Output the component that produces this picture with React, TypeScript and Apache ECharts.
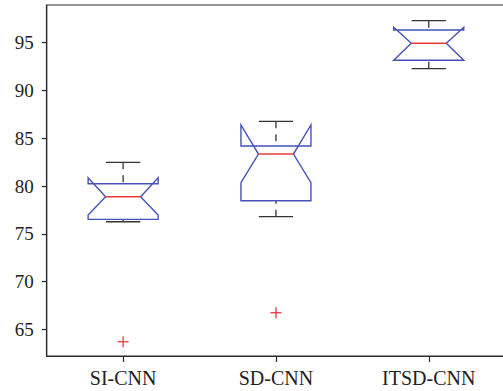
import React, { useEffect, useRef } from "react";
import * as echarts from "echarts";

const categories = ["SI-CNN", "SD-CNN", "ITSD-CNN"];
const whiskerLow = [76.26, 76.79, 92.28];
const q1 = [76.51, 78.46, 93.17];
const median = [78.88, 83.35, 94.94];
const q3 = [80.24, 84.19, 96.33];
const whiskerHigh = [82.48, 86.77, 97.31];
const notchLow = [76.96, 80.35, 93.17];
const notchHigh = [80.87, 86.39, 96.61];
const outlierCategory = [0, 1];
const outlierValue = [63.7, 66.74];
const yTicks = [65, 70, 75, 80, 85, 90, 95];
const yMin = 62.21;
const yMax = 98.95;

const BLUE = "#4652b8";
const RED = "#e83a3a";
const DARK = "#333333";

export default function App() {
  const ref = useRef<HTMLDivElement>(null);
  useEffect(() => {
    document.body.style.margin = "0";
    if (!ref.current) return;
    const chart = echarts.init(ref.current, undefined, { renderer: "svg" });
    const boxData = categories.map((_, i) => [
      i,
      whiskerLow[i],
      q1[i],
      median[i],
      q3[i],
      whiskerHigh[i],
      notchLow[i],
      notchHigh[i],
    ]);
    const outlierData = outlierCategory.map((c, i) => [c, outlierValue[i]]);
    const font = "'Liberation Serif', 'Times New Roman', serif";
    chart.setOption({
      animation: false,
      grid: {
        left: 46.7,
        top: 5,
        width: 458.5,
        height: 351,
        containLabel: false,
        outerBoundsMode: "none",
        show: true,
        borderColor: "#2a2a2a",
        borderWidth: 1.2,
        backgroundColor: "#ffffff",
      },
      xAxis: {
        type: "category",
        data: categories,
        boundaryGap: true,
        axisLine: { show: true, lineStyle: { color: "#2a2a2a", width: 1.2 } },
        axisTick: {
          show: true,
          alignWithLabel: true,
          length: 6,
          lineStyle: { color: "#2a2a2a", width: 1.2 },
        },
        axisLabel: {
          margin: 12,
          fontSize: 20,
          fontFamily: font,
          color: "#222",
        },
        splitLine: { show: false },
      },
      yAxis: {
        type: "value",
        min: yMin,
        max: yMax,
        axisLine: { show: true, lineStyle: { color: "#2a2a2a", width: 1.2 } },
        axisTick: {
          show: true,
          length: 5,
          customValues: yTicks,
          lineStyle: { color: "#2a2a2a", width: 1.2 },
        },
        axisLabel: {
          margin: 13,
          fontSize: 19,
          fontFamily: font,
          color: "#222",
          customValues: yTicks,
        },
        splitLine: { show: false },
      },
      series: [
        {
          type: "custom",
          data: boxData,
          encode: { x: 0, y: [1, 2, 3, 4, 5, 6, 7] },
          renderItem: (params: any, api: any) => {
            const idx = api.value(0);
            const band = api.size([1, 0])[0];
            const hw = band * 0.229;
            const inner = hw / 2;
            const cap = hw * 0.49;
            const cx = api.coord([idx, median[0]])[0];
            const y = (v: number) => api.coord([idx, v])[1];
            const wl = y(api.value(1));
            const yq1 = y(api.value(2));
            const ymed = y(api.value(3));
            const yq3 = y(api.value(4));
            const wh = y(api.value(5));
            const nl = y(api.value(6));
            const nh = y(api.value(7));
            const L = cx - hw;
            const R = cx + hw;
            const wStyle = { stroke: DARK, lineWidth: 1.3, lineDash: [7, 6], fill: null };
            const cStyle = { stroke: DARK, lineWidth: 1.3, fill: null };
            return {
              type: "group",
              children: [
                { type: "line", shape: { x1: cx, y1: wh, x2: cx, y2: yq3 }, style: wStyle },
                { type: "line", shape: { x1: cx, y1: wl, x2: cx, y2: yq1 }, style: wStyle },
                { type: "line", shape: { x1: cx - cap, y1: wh, x2: cx + cap, y2: wh }, style: cStyle },
                { type: "line", shape: { x1: cx - cap, y1: wl, x2: cx + cap, y2: wl }, style: cStyle },
                {
                  type: "polygon",
                  shape: {
                    points: [
                      [L, yq1],
                      [L, nl],
                      [cx - inner, ymed],
                      [L, nh],
                      [L, yq3],
                      [R, yq3],
                      [R, nh],
                      [cx + inner, ymed],
                      [R, nl],
                      [R, yq1],
                    ],
                  },
                  style: { stroke: BLUE, lineWidth: 1.4, fill: null },
                },
                {
                  type: "line",
                  shape: { x1: cx - inner, y1: ymed, x2: cx + inner, y2: ymed },
                  style: { stroke: RED, lineWidth: 1.4 },
                },
              ],
            };
          },
        },
        {
          type: "custom",
          data: outlierData,
          encode: { x: 0, y: 1 },
          renderItem: (params: any, api: any) => {
            const p = api.coord([api.value(0), api.value(1)]);
            const a = 5.5;
            const st = { stroke: RED, lineWidth: 1.3 };
            return {
              type: "group",
              children: [
                { type: "line", shape: { x1: p[0] - a, y1: p[1], x2: p[0] + a, y2: p[1] }, style: st },
                { type: "line", shape: { x1: p[0], y1: p[1] - a, x2: p[0], y2: p[1] + a }, style: st },
              ],
            };
          },
        },
      ],
    });
    return () => chart.dispose();
  }, []);
  return (
    <div
      ref={ref}
      style={{ position: "absolute", left: 0, top: 0, width: 503, height: 391, background: "#fff" }}
    />
  );
}
